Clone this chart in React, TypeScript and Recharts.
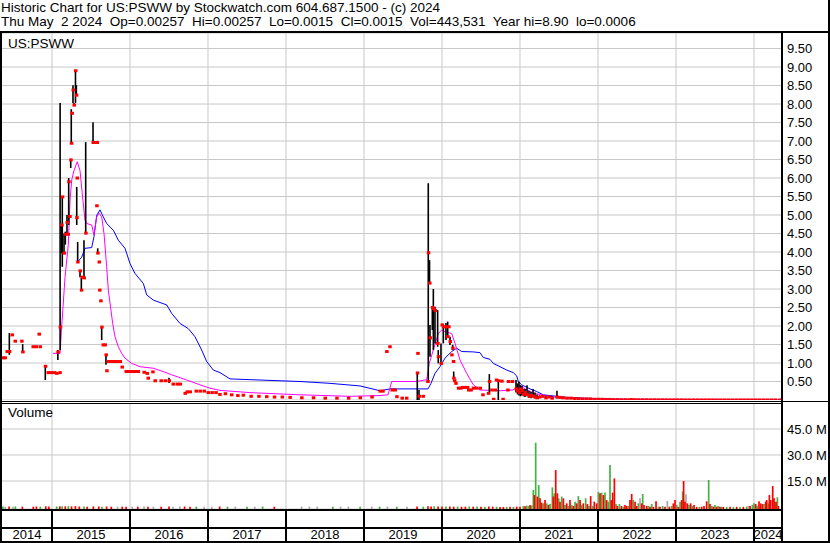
import React from "react";
import {
  CartesianGrid,
  ComposedChart,
  ErrorBar,
  Line,
  ReferenceLine,
  Scatter,
  XAxis,
  YAxis,
} from "recharts";

const T_START = 2014.359;
const T_END = 2024.359;

const yearBounds = [2015, 2016, 2017, 2018, 2019, 2020, 2021, 2022, 2023, 2024];
const yearCenters = [2014.68, 2015.5, 2016.5, 2017.5, 2018.5, 2019.5, 2020.5, 2021.5, 2022.5, 2023.5, 2024.18];
const yearLabels = ["2014", "2015", "2016", "2017", "2018", "2019", "2020", "2021", "2022", "2023", "2024"];

const priceTicks = [0.5, 1, 1.5, 2, 2.5, 3, 3.5, 4, 4.5, 5, 5.5, 6, 6.5, 7, 7.5, 8, 8.5, 9, 9.5];
const volumeTicks = [15, 30, 45];

// [time, high, low, close]
const bars2014 = [
  [2014.372, 1.14, 1.14, 1.14], [2014.397, 1.14, 1.14, 1.14], [2014.423, 1.31, 1.31, 1.31],
  [2014.453, 1.81, 1.22, 1.31], [2014.487, 1.76, 1.76, 1.76], [2014.526, 1.59, 1.59, 1.59],
  [2014.611, 1.59, 1.59, 1.59], [2014.624, 1.51, 1.3, 1.3], [2014.756, 1.44, 1.44, 1.44],
  [2014.795, 1.44, 1.44, 1.44], [2014.833, 1.78, 1.78, 1.78], [2014.846, 1.44, 1.44, 1.44],
  [2014.914, 0.92, 0.54, 0.91], [2014.949, 0.74, 0.74, 0.74], [2014.987, 0.74, 0.74, 0.74],
];

const bars2015 = [
  [2015.03, 0.74, 0.74, 0.74], [2015.06, 0.72, 0.72, 0.72], [2015.075, 1.35, 1.08, 1.3],
  [2015.1, 0.74, 0.74, 0.74], [2015.104, 8.03, 1.35, 1.97], [2015.124, 4.73, 3.97, 4.73],
  [2015.132, 5.49, 3.6, 5.49], [2015.154, 4.5, 3.97, 3.97], [2015.171, 4.55, 4.2, 4.48],
  [2015.192, 5.0, 4.48, 4.8], [2015.205, 4.48, 4.48, 4.48], [2015.214, 6.0, 4.73, 5.9],
  [2015.227, 4.96, 4.96, 4.96], [2015.24, 6.49, 6.27, 6.49], [2015.247, 7.86, 6.92, 6.94],
  [2015.256, 7.75, 7.75, 7.75], [2015.269, 8.51, 8.03, 8.38], [2015.282, 8.03, 7.97, 7.97],
  [2015.301, 8.9, 8.03, 8.9], [2015.312, 8.51, 8.24, 8.24], [2015.317, 5.76, 4.73, 4.93],
  [2015.321, 6.0, 6.0, 6.0], [2015.329, 4.27, 3.73, 3.73], [2015.359, 3.49, 3.32, 3.49],
  [2015.376, 3.3, 2.97, 2.97], [2015.385, 3.32, 3.32, 3.32], [2015.41, 4.32, 3.3, 3.3],
  [2015.432, 6.97, 4.51, 4.51], [2015.526, 7.51, 6.96, 6.96], [2015.551, 6.96, 6.96, 6.96],
  [2015.573, 5.25, 5.25, 5.25], [2015.577, 6.96, 6.96, 6.96], [2015.586, 4.1, 3.97, 3.97],
  [2015.603, 3.73, 3.73, 3.73], [2015.61, 2.97, 2.97, 2.97], [2015.624, 2.68, 2.68, 2.68],
  [2015.637, 1.97, 1.62, 1.97], [2015.654, 1.49, 1.49, 1.49], [2015.679, 1.49, 1.49, 1.49],
  [2015.692, 1.22, 0.95, 1.22], [2015.701, 0.79, 0.79, 0.79], [2015.718, 1.04, 1.04, 1.04],
  [2015.756, 1.04, 1.04, 1.04], [2015.795, 1.04, 1.04, 1.04], [2015.833, 1.04, 1.04, 1.04],
  [2015.872, 1.04, 1.04, 1.04], [2015.897, 0.89, 0.89, 0.89], [2015.949, 0.77, 0.77, 0.77],
  [2015.987, 0.77, 0.77, 0.77],
];

const bars2016to2018 = [
  [2016.026, 0.77, 0.77, 0.77], [2016.064, 0.77, 0.77, 0.77], [2016.103, 0.77, 0.77, 0.77],
  [2016.179, 0.75, 0.75, 0.75], [2016.218, 0.72, 0.72, 0.72], [2016.231, 0.59, 0.59, 0.59],
  [2016.291, 0.76, 0.76, 0.76], [2016.32, 0.52, 0.52, 0.52], [2016.397, 0.52, 0.52, 0.52],
  [2016.449, 0.52, 0.52, 0.52], [2016.5, 0.6, 0.46, 0.52], [2016.551, 0.43, 0.43, 0.43],
  [2016.603, 0.43, 0.43, 0.43], [2016.641, 0.43, 0.43, 0.43], [2016.705, 0.18, 0.18, 0.18],
  [2016.731, 0.22, 0.22, 0.22], [2016.769, 0.22, 0.22, 0.22], [2016.846, 0.24, 0.24, 0.24],
  [2016.897, 0.24, 0.24, 0.24], [2016.949, 0.24, 0.24, 0.24], [2017.0, 0.2, 0.2, 0.2],
  [2017.05, 0.2, 0.2, 0.2], [2017.1, 0.2, 0.2, 0.2], [2017.15, 0.15, 0.15, 0.15],
  [2017.22, 0.17, 0.17, 0.17], [2017.3, 0.14, 0.14, 0.14], [2017.38, 0.12, 0.12, 0.12],
  [2017.45, 0.13, 0.13, 0.13], [2017.55, 0.1, 0.1, 0.1], [2017.65, 0.1, 0.1, 0.1],
  [2017.75, 0.09, 0.09, 0.09], [2017.85, 0.08, 0.08, 0.08], [2017.95, 0.08, 0.08, 0.08],
  [2018.05, 0.07, 0.07, 0.07], [2018.2, 0.06, 0.06, 0.06], [2018.35, 0.06, 0.06, 0.06],
  [2018.5, 0.05, 0.05, 0.05], [2018.65, 0.05, 0.05, 0.05], [2018.8, 0.05, 0.05, 0.05],
  [2018.95, 0.06, 0.06, 0.06],
];

const bars2019to2020 = [
  [2019.1, 0.08, 0.08, 0.08], [2019.205, 0.24, 0.24, 0.24], [2019.24, 0.24, 0.24, 0.24],
  [2019.29, 1.31, 1.31, 1.31], [2019.33, 1.44, 1.44, 1.44], [2019.359, 0.27, 0.27, 0.27],
  [2019.397, 0.27, 0.27, 0.27], [2019.419, 0.09, 0.09, 0.09], [2019.487, 0.05, 0.05, 0.05],
  [2019.545, 0.05, 0.05, 0.05], [2019.683, 0.76, 0.0, 0.73], [2019.689, 1.26, 1.26, 1.26],
  [2019.705, 0.27, 0.0, 0.1], [2019.756, 0.1, 0.1, 0.1], [2019.817, 0.5, 0.5, 0.5],
  [2019.824, 5.86, 0.49, 3.98], [2019.84, 3.78, 3.16, 3.16], [2019.846, 2.03, 1.17, 1.68],
  [2019.876, 2.52, 1.89, 2.5], [2019.889, 3.0, 1.35, 2.47], [2019.91, 2.52, 1.53, 2.42],
  [2019.944, 2.43, 1.44, 1.53], [2019.952, 1.35, 0.99, 1.17], [2019.987, 1.53, 0.99, 0.99],
  [2020.0, 2.03, 2.03, 2.03], [2020.017, 2.03, 1.53, 1.98], [2020.051, 2.08, 1.62, 1.98],
  [2020.073, 2.12, 1.71, 1.71], [2020.085, 1.98, 1.98, 1.98], [2020.103, 1.71, 1.49, 1.58],
  [2020.124, 1.22, 1.22, 1.22], [2020.137, 1.49, 1.35, 1.4], [2020.145, 1.04, 1.04, 1.04],
  [2020.15, 0.77, 0.59, 0.59], [2020.16, 0.52, 0.52, 0.52], [2020.176, 0.45, 0.45, 0.45],
  [2020.209, 0.32, 0.32, 0.32], [2020.24, 0.32, 0.32, 0.32], [2020.26, 0.34, 0.34, 0.34],
  [2020.3, 0.34, 0.34, 0.34], [2020.325, 0.34, 0.34, 0.34], [2020.34, 0.27, 0.27, 0.27],
  [2020.37, 0.27, 0.27, 0.27], [2020.4, 0.32, 0.32, 0.32], [2020.44, 0.32, 0.32, 0.32],
  [2020.487, 0.32, 0.32, 0.32], [2020.522, 0.14, 0.14, 0.14], [2020.594, 0.18, 0.18, 0.18],
  [2020.607, 0.7, 0.19, 0.5], [2020.637, 0.27, 0.27, 0.27], [2020.66, 0.02, 0.02, 0.02],
  [2020.68, 0.27, 0.27, 0.27], [2020.696, 0.54, 0.54, 0.54], [2020.722, 0.54, 0.0, 0.52],
  [2020.765, 0.51, 0.51, 0.51], [2020.78, 0.02, 0.02, 0.02], [2020.842, 0.27, 0.27, 0.27],
  [2020.85, 0.5, 0.5, 0.5], [2020.9, 0.5, 0.5, 0.5], [2020.949, 0.54, 0.2, 0.3],
  [2020.968, 0.45, 0.15, 0.25], [2020.987, 0.5, 0.12, 0.2],
];

const bars2021to2024 = [
  [2021.006, 0.4, 0.1, 0.3], [2021.026, 0.38, 0.12, 0.25], [2021.045, 0.3, 0.1, 0.15],
  [2021.064, 0.3, 0.08, 0.2], [2021.09, 0.4, 0.1, 0.15], [2021.115, 0.25, 0.06, 0.1],
  [2021.141, 0.22, 0.05, 0.12], [2021.167, 0.3, 0.08, 0.1], [2021.192, 0.2, 0.04, 0.08],
  [2021.218, 0.15, 0.03, 0.06], [2021.25, 0.12, 0.05, 0.08], [2021.29, 0.1, 0.1, 0.1],
  [2021.33, 0.12, 0.04, 0.06], [2021.37, 0.08, 0.08, 0.08], [2021.41, 0.1, 0.04, 0.05],
  [2021.474, 0.25, 0.04, 0.08], [2021.51, 0.07, 0.07, 0.07], [2021.55, 0.06, 0.06, 0.06],
  [2021.6, 0.05, 0.05, 0.05], [2021.65, 0.05, 0.05, 0.05], [2021.7, 0.04, 0.04, 0.04],
  [2021.75, 0.04, 0.04, 0.04], [2021.8, 0.03, 0.03, 0.03], [2021.85, 0.03, 0.03, 0.03],
  [2021.9, 0.03, 0.03, 0.03], [2021.95, 0.02, 0.02, 0.02], [2022.0, 0.02, 0.02, 0.02],
  [2022.05, 0.02, 0.02, 0.02], [2022.1, 0.015, 0.015, 0.015], [2022.15, 0.015, 0.015, 0.015],
  [2022.2, 0.01, 0.01, 0.01], [2022.25, 0.01, 0.01, 0.01], [2022.3, 0.008, 0.008, 0.008],
  [2022.35, 0.008, 0.008, 0.008], [2022.4, 0.007, 0.007, 0.007], [2022.43, 0.04, 0.005, 0.007],
  [2022.47, 0.007, 0.007, 0.007], [2022.52, 0.006, 0.006, 0.006], [2022.57, 0.006, 0.006, 0.006],
  [2022.62, 0.006, 0.006, 0.006], [2022.67, 0.005, 0.005, 0.005], [2022.72, 0.005, 0.005, 0.005],
  [2022.77, 0.005, 0.005, 0.005], [2022.82, 0.005, 0.005, 0.005], [2022.87, 0.004, 0.004, 0.004],
  [2022.92, 0.004, 0.004, 0.004], [2022.97, 0.004, 0.004, 0.004], [2023.02, 0.004, 0.004, 0.004],
  [2023.07, 0.004, 0.004, 0.004], [2023.12, 0.003, 0.003, 0.003], [2023.17, 0.003, 0.003, 0.003],
  [2023.22, 0.003, 0.003, 0.003], [2023.27, 0.003, 0.003, 0.003], [2023.32, 0.003, 0.003, 0.003],
  [2023.37, 0.003, 0.003, 0.003], [2023.42, 0.003, 0.003, 0.003], [2023.47, 0.003, 0.003, 0.003],
  [2023.52, 0.002, 0.002, 0.002], [2023.57, 0.002, 0.002, 0.002], [2023.62, 0.002, 0.002, 0.002],
  [2023.67, 0.002, 0.002, 0.002], [2023.72, 0.002, 0.002, 0.002], [2023.77, 0.002, 0.002, 0.002],
  [2023.82, 0.002, 0.002, 0.002], [2023.87, 0.002, 0.002, 0.002], [2023.92, 0.002, 0.002, 0.002],
  [2023.97, 0.002, 0.002, 0.002], [2024.02, 0.002, 0.002, 0.002], [2024.07, 0.002, 0.002, 0.002],
  [2024.12, 0.002, 0.002, 0.002], [2024.17, 0.002, 0.002, 0.002], [2024.22, 0.002, 0.002, 0.002],
  [2024.27, 0.002, 0.002, 0.002], [2024.33, 0.00257, 0.0015, 0.0015],
];

// [time, value]
const maShort = [
  [2015.013, 1.26], [2015.103, 1.26], [2015.124, 1.97], [2015.167, 3.32], [2015.209, 4.2],
  [2015.231, 5.4], [2015.253, 5.95], [2015.282, 6.2], [2015.324, 6.44], [2015.359, 6.2],
  [2015.388, 5.58], [2015.423, 4.86], [2015.445, 4.77], [2015.509, 4.73], [2015.538, 4.46],
  [2015.573, 4.95], [2015.603, 5.05], [2015.637, 4.95], [2015.667, 4.5], [2015.701, 3.6],
  [2015.722, 2.97], [2015.756, 2.43], [2015.778, 2.07], [2015.808, 1.71], [2015.85, 1.44],
  [2015.894, 1.26], [2015.936, 1.13], [2016.022, 0.99], [2016.128, 0.9], [2016.295, 0.86],
  [2016.423, 0.77], [2016.535, 0.68], [2016.727, 0.54], [2016.897, 0.41], [2017.026, 0.32],
  [2017.154, 0.26], [2017.538, 0.2], [2018.18, 0.14], [2018.82, 0.1], [2019.205, 0.12],
  [2019.308, 0.14], [2019.355, 0.5], [2019.676, 0.5], [2019.804, 0.55], [2019.837, 0.99],
  [2019.888, 1.35], [2019.953, 1.8], [2019.996, 1.89], [2020.06, 1.83], [2020.124, 1.8],
  [2020.167, 1.53], [2020.231, 1.08], [2020.317, 0.72], [2020.401, 0.41], [2020.487, 0.27],
  [2020.744, 0.25], [2020.91, 0.27], [2021.0, 0.4], [2021.064, 0.3], [2021.167, 0.19],
  [2021.342, 0.11], [2021.513, 0.06], [2021.769, 0.03], [2022.282, 0.01], [2024.33, 0.002],
];

const maLong = [
  [2015.329, 3.73], [2015.381, 3.86], [2015.423, 4.1], [2015.509, 4.12], [2015.538, 4.41],
  [2015.573, 4.99], [2015.615, 5.14], [2015.658, 4.95], [2015.701, 4.77], [2015.786, 4.59],
  [2015.85, 4.32], [2015.936, 4.1], [2016.0, 3.69], [2016.064, 3.42], [2016.171, 3.15],
  [2016.214, 2.84], [2016.299, 2.7], [2016.471, 2.57], [2016.535, 2.34], [2016.641, 2.07],
  [2016.747, 1.93], [2016.833, 1.71], [2016.919, 1.35], [2016.983, 1.04], [2017.068, 0.81],
  [2017.154, 0.74], [2017.282, 0.57], [2017.667, 0.54], [2018.18, 0.5], [2018.564, 0.45],
  [2018.949, 0.38], [2019.205, 0.25], [2019.333, 0.3], [2019.821, 0.3], [2019.859, 0.45],
  [2019.91, 0.72], [2019.974, 0.9], [2020.038, 1.13], [2020.124, 1.31], [2020.188, 1.4],
  [2020.253, 1.31], [2020.401, 1.3], [2020.487, 1.28], [2020.53, 1.15], [2020.615, 1.1],
  [2020.658, 0.99], [2020.744, 0.9], [2020.829, 0.81], [2020.914, 0.74], [2020.958, 0.65],
  [2020.978, 0.5], [2021.022, 0.41], [2021.128, 0.3], [2021.214, 0.23], [2021.299, 0.14],
  [2021.471, 0.1], [2021.599, 0.07], [2021.936, 0.04], [2022.321, 0.02], [2024.33, 0.004],
];

// [time, volume in millions, g = up / r = down / a = unchanged]
const volumeEarly: [number, number, string][] = [
  [2014.37, 0.3, "g"], [2014.4, 0.2, "a"], [2014.45, 0.3, "r"], [2014.5, 0.2, "a"], [2014.53, 0.3, "g"],
  [2014.62, 0.2, "r"], [2014.76, 0.2, "r"], [2014.8, 0.3, "r"], [2014.85, 0.2, "g"], [2014.92, 0.4, "r"],
  [2014.96, 0.3, "r"], [2015.06, 0.3, "g"], [2015.1, 0.4, "r"], [2015.13, 0.5, "g"], [2015.17, 0.4, "r"],
  [2015.21, 0.5, "g"], [2015.25, 0.4, "r"], [2015.3, 0.5, "r"], [2015.35, 0.3, "r"], [2015.41, 0.3, "g"],
  [2015.45, 0.2, "r"], [2015.53, 0.3, "r"], [2015.6, 0.3, "r"], [2015.64, 0.2, "g"], [2015.7, 0.3, "r"],
  [2015.76, 0.2, "r"], [2015.84, 0.2, "a"], [2015.9, 0.2, "r"], [2015.95, 0.2, "r"], [2016.03, 0.2, "a"],
  [2016.1, 0.2, "r"], [2016.18, 0.3, "a"], [2016.23, 0.2, "r"], [2016.3, 0.2, "a"], [2016.4, 0.2, "r"],
  [2016.5, 0.3, "r"], [2016.55, 0.2, "a"], [2016.64, 0.3, "a"], [2016.7, 0.3, "r"], [2016.77, 0.2, "r"],
  [2016.85, 0.2, "g"], [2016.95, 0.2, "a"], [2017.05, 0.2, "a"], [2017.15, 0.3, "r"], [2017.25, 0.2, "g"],
  [2017.35, 0.2, "a"], [2017.5, 0.2, "g"], [2017.6, 0.2, "a"], [2017.7, 0.3, "g"], [2017.85, 0.2, "r"],
  [2018.2, 0.2, "a"], [2018.3, 0.2, "a"], [2018.4, 0.2, "a"], [2018.6, 0.2, "g"], [2018.7, 0.2, "a"],
  [2018.8, 0.2, "a"], [2018.95, 0.2, "g"], [2019.1, 0.2, "a"], [2019.2, 0.2, "g"], [2019.3, 0.2, "a"],
  [2019.42, 0.2, "g"], [2019.55, 0.2, "a"], [2019.68, 0.3, "r"], [2019.76, 0.2, "g"], [2019.82, 0.4, "r"],
  [2019.86, 0.3, "r"], [2019.9, 0.4, "g"], [2019.95, 0.3, "r"], [2020.0, 0.3, "r"], [2020.05, 0.3, "g"],
  [2020.1, 0.3, "r"], [2020.15, 0.2, "r"], [2020.2, 0.3, "g"], [2020.25, 0.2, "r"], [2020.3, 0.2, "r"],
  [2020.35, 0.3, "g"], [2020.4, 0.2, "r"], [2020.45, 0.3, "g"], [2020.5, 0.2, "r"], [2020.55, 0.2, "g"],
  [2020.6, 0.3, "r"], [2020.65, 0.2, "r"], [2020.7, 0.2, "g"], [2020.744, 0.05, "r"], [2020.787, 0.05, "r"],
  [2020.829, 0.1, "g"], [2020.872, 0.1, "r"], [2020.915, 0.1, "g"], [2020.958, 0.2, "r"], [2021.0, 0.2, "r"],
];

const volumeLate: [number, number, string][] = [
  [2021.043, 0.6, "g"], [2021.065, 0.4, "r"], [2021.086, 0.8, "g"], [2021.108, 0.5, "g"], [2021.129, 1.2, "r"],
  [2021.15, 0.9, "g"], [2021.171, 9.8, "g"], [2021.184, 6.9, "r"], [2021.201, 37.1, "g"], [2021.223, 6.0, "r"],
  [2021.24, 12.7, "g"], [2021.257, 5.0, "r"], [2021.278, 2.5, "r"], [2021.3, 2.1, "g"], [2021.321, 4.0, "r"],
  [2021.342, 2.1, "g"], [2021.364, 1.2, "r"], [2021.385, 1.7, "g"], [2021.415, 11.3, "g"], [2021.428, 6.0, "r"],
  [2021.441, 7.9, "g"], [2021.458, 21.3, "r"], [2021.479, 7.9, "r"], [2021.496, 5.0, "g"], [2021.513, 3.1, "r"],
  [2021.535, 6.0, "g"], [2021.556, 5.0, "r"], [2021.577, 1.2, "g"], [2021.599, 2.1, "r"], [2021.62, 0.6, "g"],
  [2021.641, 4.0, "r"], [2021.663, 1.2, "g"], [2021.684, 0.6, "r"], [2021.706, 3.1, "g"], [2021.727, 2.1, "r"],
  [2021.748, 6.3, "g"], [2021.77, 4.0, "r"], [2021.791, 1.2, "g"], [2021.812, 2.1, "r"], [2021.842, 5.0, "g"],
  [2021.864, 1.7, "r"], [2021.885, 0.6, "g"], [2021.906, 6.3, "r"], [2021.932, 0.6, "g"], [2021.953, 3.1, "r"],
  [2021.983, 2.1, "r"], [2022.005, 8.7, "g"], [2022.026, 7.9, "r"], [2022.047, 8.3, "g"], [2022.069, 6.9, "r"],
  [2022.09, 8.3, "g"], [2022.111, 4.0, "r"], [2022.133, 3.1, "g"], [2022.154, 24.2, "g"], [2022.171, 4.0, "r"],
  [2022.188, 8.3, "r"], [2022.21, 16.5, "r"], [2022.231, 1.7, "g"], [2022.248, 0.6, "r"], [2022.274, 1.7, "g"],
  [2022.3, 0.6, "r"], [2022.325, 0.2, "g"], [2022.346, 1.2, "r"], [2022.368, 0.6, "r"], [2022.389, 0.6, "g"],
  [2022.41, 4.0, "r"], [2022.432, 7.5, "r"], [2022.453, 4.0, "g"], [2022.475, 3.1, "r"], [2022.496, 0.6, "r"],
  [2022.517, 2.1, "g"], [2022.539, 5.0, "a"], [2022.56, 2.1, "r"], [2022.573, 7.5, "g"], [2022.59, 1.2, "r"],
  [2022.624, 0.6, "r"], [2022.646, 0.6, "g"], [2022.667, 0.2, "r"], [2022.689, 1.7, "g"], [2022.71, 0.1, "r"],
  [2022.744, 3.3, "r"], [2022.774, 0.2, "g"], [2022.795, 0.2, "r"], [2022.829, 0.6, "g"], [2022.859, 0.1, "r"],
  [2022.889, 3.5, "a"], [2022.915, 0.2, "r"], [2022.945, 0.6, "g"], [2022.966, 2.1, "r"], [2022.987, 4.0, "r"],
  [2023.009, 1.2, "g"], [2023.03, 0.1, "r"], [2023.052, 3.1, "g"], [2023.073, 4.0, "r"], [2023.086, 9.0, "g"],
  [2023.098, 15.0, "r"], [2023.115, 3.1, "r"], [2023.128, 7.3, "a"], [2023.145, 2.1, "r"], [2023.167, 1.2, "g"],
  [2023.188, 2.1, "r"], [2023.21, 0.6, "g"], [2023.231, 1.2, "r"], [2023.265, 0.1, "r"], [2023.3, 0.1, "g"],
  [2023.329, 0.2, "r"], [2023.359, 0.6, "r"], [2023.393, 3.3, "r"], [2023.419, 15.6, "g"], [2023.436, 1.7, "r"],
  [2023.458, 0.6, "g"], [2023.479, 0.2, "r"], [2023.5, 1.2, "g"], [2023.522, 0.2, "r"], [2023.543, 0.6, "g"],
  [2023.564, 0.2, "r"], [2023.586, 0.1, "g"], [2023.607, 0.1, "r"], [2023.65, 0.1, "g"], [2023.693, 0.2, "r"],
  [2023.735, 0.05, "g"], [2023.778, 0.1, "r"], [2023.821, 0.05, "g"], [2023.863, 0.1, "r"], [2023.906, 0.2, "g"],
  [2023.928, 0.6, "a"], [2023.949, 0.6, "r"], [2023.979, 1.2, "g"], [2024.0, 2.1, "g"], [2024.022, 1.7, "r"],
  [2024.043, 0.6, "g"], [2024.064, 3.3, "r"], [2024.086, 2.1, "r"], [2024.107, 1.7, "r"], [2024.128, 1.7, "g"],
  [2024.15, 3.1, "r"], [2024.163, 4.0, "r"], [2024.184, 2.1, "g"], [2024.197, 6.9, "r"], [2024.214, 4.0, "r"],
  [2024.24, 12.1, "r"], [2024.257, 5.0, "r"], [2024.27, 3.1, "g"], [2024.283, 3.1, "r"], [2024.3, 5.6, "g"],
  [2024.312, 0.6, "r"],
];

const VOL_FLOOR = -1.15;
const FONT = "'Liberation Sans', Arial, sans-serif";
const GRID = "#c8c8c8";
const volColors: Record<string, string> = { g: "#44b244", r: "#ff0000", a: "#a8a8a8" };

const priceData = [...bars2014, ...bars2015, ...bars2016to2018, ...bars2019to2020, ...bars2021to2024].map(
  ([t, h, l, c]) => ({ t, h, l, c })
);
const shortData = maShort.map(([t, v]) => ({ t, v }));
const longData = maLong.map(([t, v]) => ({ t, v }));
const volumeAll = [...volumeEarly, ...volumeLate].map(([t, v, k]) => ({ t, v, k }));

const CloseTick = (props: any) => {
  const { cx, cy } = props;
  if (cx == null || cy == null) return <g />;
  return <rect x={cx - 1.5} y={cy - 1.5} width={3.5} height={3} fill="#ff0000" />;
};

const YearTick = (props: any) => {
  const { x, y, payload } = props;
  const v = payload.value;
  if (yearBounds.includes(v)) {
    return <rect x={x - 1} y={y} width={2} height={32} fill="#000" />;
  }
  const i = yearCenters.indexOf(v);
  return (
    <text x={x} y={y + 29.5} textAnchor="middle" fontSize={13} fontFamily={FONT} fill="#000">
      {yearLabels[i]}
    </text>
  );
};

function PriceChart() {
  return (
    <ComposedChart width={830} height={367} data={priceData} margin={{ top: 0, right: 0, bottom: 0, left: 2 }}>
      <CartesianGrid stroke={GRID} vertical={false} />
      {yearBounds.map((y) => (
        <ReferenceLine key={y} x={y} stroke={GRID} />
      ))}
      <XAxis dataKey="t" type="number" domain={[T_START, T_END]} allowDataOverflow hide />
      <YAxis
        orientation="right"
        width={48}
        type="number"
        domain={[0, 9.92]}
        allowDataOverflow
        ticks={priceTicks}
        interval={0}
        tickFormatter={(v: number) => v.toFixed(2)}
        tickLine={false}
        tickSize={3}
        tickMargin={2}
        axisLine={{ stroke: "#000", strokeWidth: 2 }}
        tick={{ fill: "#000", fontSize: 13, fontFamily: FONT }}
      />
      <Line data={longData} dataKey="v" stroke="#0000ff" strokeWidth={1} dot={false} isAnimationActive={false} />
      <Line data={shortData} dataKey="v" stroke="#ff00ff" strokeWidth={1} dot={false} isAnimationActive={false} />
      <Scatter data={priceData} dataKey="c" shape={CloseTick} isAnimationActive={false}>
        <ErrorBar
          dataKey={(d: any) => [d.c - d.l, d.h - d.c]}
          direction="y"
          width={0}
          stroke="#000"
          strokeWidth={1.6}
          isAnimationActive={false}
        />
      </Scatter>
    </ComposedChart>
  );
}

function VolumeChart() {
  const keys = ["a", "g", "r"];
  return (
    <ComposedChart width={830} height={138} margin={{ top: 0, right: 0, bottom: 0, left: 2 }}>
      <CartesianGrid stroke={GRID} vertical={false} />
      {yearBounds.map((y) => (
        <ReferenceLine key={y} x={y} stroke={GRID} />
      ))}
      <XAxis
        dataKey="t"
        type="number"
        domain={[T_START, T_END]}
        allowDataOverflow
        ticks={[...yearCenters, ...yearBounds].sort((a, b) => a - b)}
        interval={0}
        height={32}
        tickSize={0}
        tickMargin={0}
        axisLine={false}
        tickLine={false}
        tick={(p: any) => <YearTick {...p} />}
      />
      <YAxis
        orientation="right"
        width={48}
        type="number"
        domain={[VOL_FLOOR, 60]}
        allowDataOverflow
        ticks={volumeTicks}
        interval={0}
        tickFormatter={(v: number) => `${v.toFixed(1)} M`}
        tickLine={false}
        tickSize={3}
        tickMargin={2}
        axisLine={{ stroke: "#000", strokeWidth: 2 }}
        tick={{ fill: "#000", fontSize: 13, fontFamily: FONT }}
      />
      {keys.map((k) => (
        <Scatter
          key={k}
          data={volumeAll.filter((d) => d.k === k)}
          dataKey="v"
          shape={() => <g />}
          isAnimationActive={false}
        >
          <ErrorBar
            dataKey={(d: any) => [d.v - VOL_FLOOR, 0]}
            direction="y"
            width={0}
            stroke={volColors[k]}
            strokeWidth={1.7}
            isAnimationActive={false}
          />
        </Scatter>
      ))}
    </ComposedChart>
  );
}

function Frame() {
  const line1 = "Historic Chart for US:PSWW by Stockwatch.com 604.687.1500 - (c) 2024";
  const line2 =
    "Thu May  2 2024  Op=0.00257  Hi=0.00257  Lo=0.0015  Cl=0.0015  Vol=443,531  Year hi=8.90  lo=0.0006";
  const pre = { whiteSpace: "pre" as const };
  return (
    <svg
      width={830}
      height={543}
      style={{ position: "absolute", left: 0, top: 0, pointerEvents: "none" }}
    >
      <g fontFamily={FONT} fontSize={13.5} fill="#000">
        <text x={1} y={11.7} xmlSpace="preserve" style={pre}>{line1}</text>
        <text x={1} y={25.7} xmlSpace="preserve" style={pre}>{line2}</text>
        <text x={8} y={47.5}>US:PSWW</text>
        <text x={8} y={416.5}>Volume</text>
      </g>
      <rect x={0} y={31} width={830} height={2} fill="#000" />
      <rect x={828} y={0} width={2} height={543} fill="#000" />
      <rect x={0} y={31} width={2} height={512} fill="#000" />
      <rect x={781} y={31} width={2} height={510} fill="#000" />
      <rect x={0} y={401} width={830} height={1} fill="#000" />
      <rect x={0} y={403} width={782} height={1} fill="#000" />
      <rect x={0} y={509} width={782} height={2} fill="#000" />
      <rect x={0} y={527} width={782} height={2} fill="#000" />
      <rect x={0} y={541} width={830} height={2} fill="#000" />
    </svg>
  );
}

export default function App() {
  return (
    <div
      style={{
        position: "fixed",
        left: 0,
        top: 0,
        width: 830,
        height: 543,
        background: "#fff",
        fontFamily: FONT,
        overflow: "hidden",
      }}
    >
      <div style={{ position: "absolute", left: 0, top: 33 }}>
        <PriceChart />
      </div>
      <div style={{ position: "absolute", left: 0, top: 403 }}>
        <VolumeChart />
      </div>
      <Frame />
    </div>
  );
}
